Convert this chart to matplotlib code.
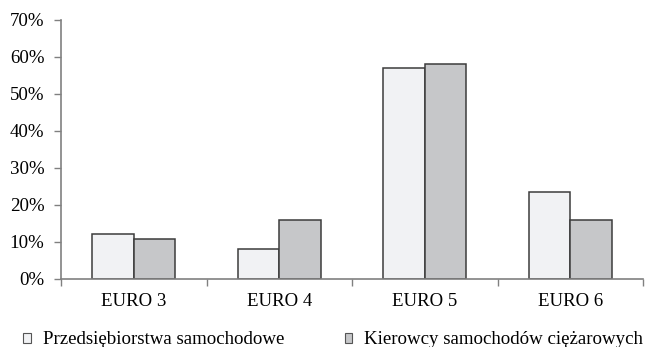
import matplotlib
matplotlib.use('Agg')

import numpy as np
import matplotlib.pyplot as plt
from matplotlib.patches import Patch
from matplotlib.ticker import FuncFormatter

# Data
categories = ["EURO 3", "EURO 4", "EURO 5", "EURO 6"]
przedsiebiorstwa = [12, 8, 57, 23.5]
kierowcy = [10.7, 15.8, 58, 15.8]
series_names = ["Przedsiębiorstwa samochodowe", "Kierowcy samochodów ciężarowych"]
colors = ["#f1f2f4", "#c6c7c9"]

plt.rcParams['font.family'] = ['Liberation Serif', 'DejaVu Serif']
plt.rcParams['font.size'] = 13.6

fig = plt.figure(figsize=(6.46, 3.47), dpi=100)
ax = fig.add_axes([61 / 646, (347 - 278.7) / 347, (643 - 61) / 646, (278.7 - 19.7) / 347])

x = np.arange(len(categories))
w = 0.285
edge = "#3c3c3c"
ax.bar(x - w / 2, przedsiebiorstwa, w, color=colors[0], edgecolor=edge, linewidth=1.1)
ax.bar(x + w / 2, kierowcy, w, color=colors[1], edgecolor=edge, linewidth=1.1)

ax.set_xlim(-0.5, len(categories) - 0.5)
ax.set_ylim(0, 70)
ax.set_yticks(range(0, 71, 10))
ax.yaxis.set_major_formatter(FuncFormatter(lambda v, p: f"{int(v)}%"))

# category ticks sit between groups, labels centred under groups
ax.set_xticks(np.arange(-0.5, len(categories), 1.0))
ax.set_xticklabels([])
ax.set_xticks(x, minor=True)
ax.set_xticklabels(categories, minor=True)
ax.tick_params(axis='x', which='minor', length=0, pad=10)
ax.tick_params(axis='x', which='major', length=5, color="#808080", width=1)
ax.tick_params(axis='y', length=5, color="#808080", width=1, pad=7)

for s in ["top", "right"]:
    ax.spines[s].set_visible(False)
for s in ["left", "bottom"]:
    ax.spines[s].set_color("#808080")
    ax.spines[s].set_linewidth(1.2)

handles = [Patch(facecolor=c, edgecolor="#555555", linewidth=0.8) for c in colors]
fig.legend(handles, series_names, loc="center left", bbox_to_anchor=(23 / 646, 7 / 347), ncol=2,
           frameon=False, borderpad=0, borderaxespad=0,
           handlelength=0.4, handleheight=0.4, handletextpad=0.65,
           columnspacing=3.2, fontsize=13.6)

plt.savefig("out.png", dpi=100)
